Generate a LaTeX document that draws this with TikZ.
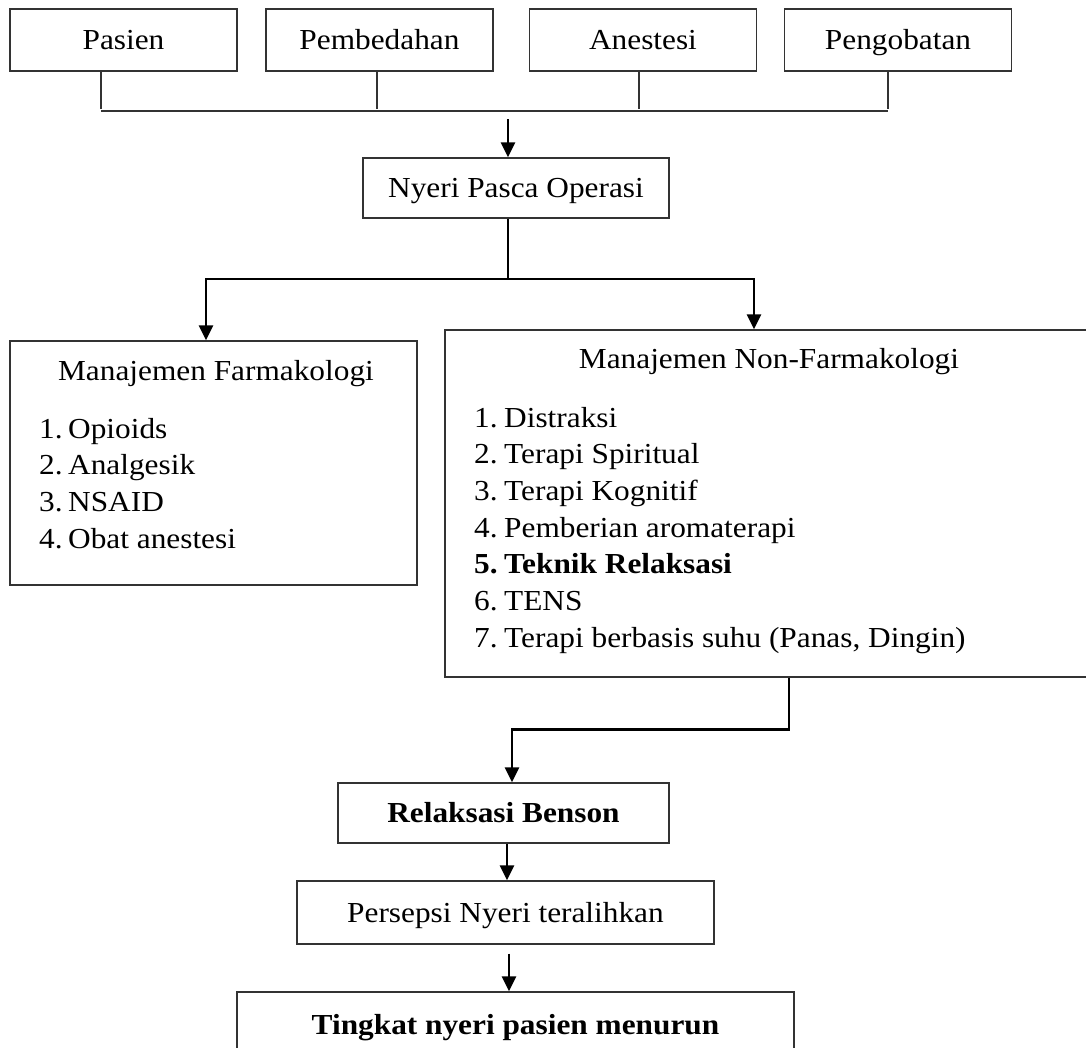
\documentclass[tikz,border=0pt]{standalone}
\usepackage{fontspec}
\setmainfont{Liberation Serif}[FakeStretch=1.08]
\usetikzlibrary{arrows.meta,positioning,calc}
\tikzset{
    box line/.style={draw=black!80},
    box/.style={box line,line width=1.3pt,inner sep=0pt,text height=19pt,text depth=0pt},
    topbox/.style={box,minimum width=227pt,minimum height=62pt},
    stem/.style={box line,line width=1.3pt},
    trunk/.style={line width=2.8pt},
    flow/.style={trunk,-{Triangle[length=15pt,width=14pt]}},
    item/.style={anchor=base west,inner sep=0pt},
}

\begin{document}
\begin{tikzpicture}[x=1pt,y=-1pt,font=\fontsize{29}{33}\selectfont]
        \useasboundingbox (0,0) rectangle (1086,1048);

        % causes
        \node[topbox] (pasien) at (123.5,40) {Pasien};
        \node[topbox] (bedah) at (379.5,40) {Pembedahan};
        \node[topbox] (anestesi) at (643,40) {Anestesi};
        \node[topbox] (obat) at (898,40) {Pengobatan};
        \coordinate (joinL) at (101,111);
        \coordinate (joinR) at (888,111);
        \draw[stem] (joinL) -- (joinR);
        \foreach \nm/\dx in {pasien/-22.5, bedah/-2.5, anestesi/-4, obat/-10}
            \draw[stem] ($(\nm.south)+(\dx,0)$) -- ++(0,37);

        \node[box,minimum width=306pt,minimum height=60pt] (nyeri) at (516,188) {Nyeri Pasca Operasi};
        \draw[flow] ($(nyeri.north)+(-8,-38)$) -- ($(nyeri.north)+(-8,0)$);

        % two kinds of management
        \node[box,minimum width=407pt,minimum height=244pt] (farmako) at (213.5,463) {};
        \node[box,minimum width=655pt,minimum height=347pt] (nonfarmako) at (772.5,503.5) {};
        \node[anchor=base] (farmako title) at (216,380) {Manajemen Farmakologi};
        \node[anchor=base] (nonfarmako title) at (769,368) {Manajemen Non-Farmakologi};
        \foreach \txt [count=\i] in {Opioids, Analgesik, NSAID, Obat anestesi} {
            \node[item] (farmako num \i) at (39,{438+36.7*(\i-1)}) {\i.};
            \node[item] (farmako item \i) at (68,{438+36.7*(\i-1)}) {\txt};
        }
        \foreach \txt/\wt [count=\i] in {Distraksi/\mdseries, Terapi Spiritual/\mdseries,
                Terapi Kognitif/\mdseries, Pemberian aromaterapi/\mdseries,
                Teknik Relaksasi/\bfseries, TENS/\mdseries,
                {Terapi berbasis suhu (Panas, Dingin)}/\mdseries} {
            \node[item] (nonfarmako num \i) at (474,{427+36.7*(\i-1)}) {\wt\i.};
            \node[item] (nonfarmako item \i) at (504,{427+36.7*(\i-1)}) {\wt\txt};
        }

        \coordinate (split) at (508,279);
        \draw[trunk] (nyeri.south -| split) -- (split);
        \draw[flow] (split) -| ($(farmako.north)+(-7.5,0)$);
        \draw[flow] (split) -| ($(nonfarmako.north)+(-18.5,0)$);

        % outcome chain
        \node[box,minimum width=331pt,minimum height=60pt] (benson) at (503.5,813) {\bfseries Relaksasi Benson};
        \node[box,minimum width=417pt,minimum height=63pt] (persepsi) at (505.5,912.5) {Persepsi Nyeri teralihkan};
        \node[box,minimum width=557pt,minimum height=65pt] (tingkat) at (515.5,1024.5) {\bfseries Tingkat nyeri pasien menurun};

        \draw[flow] ($(nonfarmako.south)+(16.5,0)$) -- ++(0,52) -| ($(benson.north)+(8.5,0)$);
        \draw[flow] ($(benson.south)+(3.5,0)$) -- ($(persepsi.north)+(1.5,0)$);
        \draw[flow] ($(persepsi.south)+(3.5,9)$) -- ($(tingkat.north)+(-6.5,0)$);
\end{tikzpicture}
\end{document}
